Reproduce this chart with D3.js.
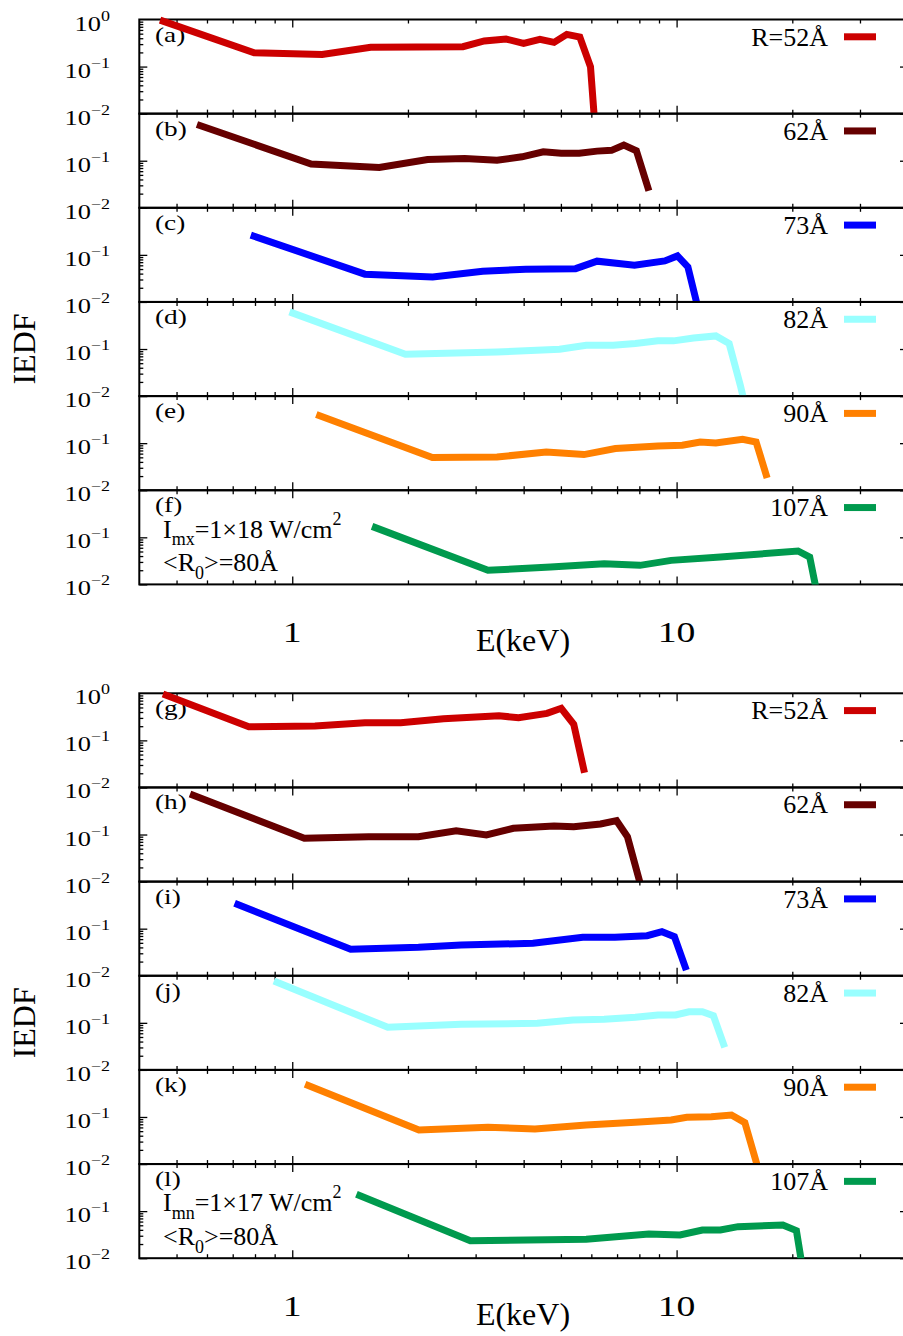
<!DOCTYPE html>
<html><head><meta charset="utf-8">
<script src="https://cdn.jsdelivr.net/npm/d3@7"></script>
<style>
body{margin:0;background:#fff}
svg{display:block;background:#fff}
</style>
</head><body>
<svg id="c" width="903" height="1336" font-family="Liberation Serif, Times New Roman, serif"></svg>
<script>
// ---------- data ----------
const letters = ["a","b","c","d","e","f","g","h","i","j","k","l"];
const radiusLabels = ["R=52Å","62Å","73Å","82Å","90Å","107Å"];
const lineColors = ["#cc0000","#660000","#0000ff","#99ffff","#ff8000","#009a4e"];
const xMajor = [1, 10];
const xMinor = [0.5,0.6,0.7,0.8,0.9,2,3,4,5,6,7,8,9,20,30];
const xTickLabels = ["1","10"];
const yMajor = [1, 0.1, 0.01];
const yExponents = ["0","−1","−2"];
const yMinorUpper = [0.2,0.3,0.4,0.5,0.6,0.7,0.8,0.9];
const yMinorLower = [0.02,0.03,0.04,0.05,0.06,0.07,0.08,0.09];
const intensitySub = ["mx","mn"];
const intensityText = ["=1×18 W/cm","=1×17 W/cm"];

// top group (I_mx)
const E_a = [0.453,0.796,1.196,1.6,2.78,3.16,3.6,4.0,4.41,4.8,5.18,5.6,5.97,6.1];
const V_a = [0.97,0.197,0.18,0.256,0.264,0.35,0.385,0.311,0.379,0.327,0.483,0.425,0.099,0.0095];
const E_b = [0.565,1.12,1.684,2.25,2.81,3.41,3.96,4.5,5.01,5.58,6.21,6.77,7.29,7.86,8.47];
const V_b = [0.59,0.085,0.072,0.106,0.112,0.103,0.121,0.155,0.145,0.145,0.16,0.166,0.215,0.163,0.023];
const E_c = [0.78,1.545,2.32,3.13,4.05,5.46,6.21,7.77,9.32,10.05,10.7,11.3];
const V_c = [0.263,0.0389,0.034,0.045,0.0497,0.051,0.0735,0.0603,0.0745,0.095,0.0555,0.009];
const E_d = [0.984,1.97,3.41,4.96,5.82,6.84,7.81,8.94,9.82,11.07,12.65,13.7,14.65,14.9];
const V_d = [0.616,0.0775,0.0867,0.099,0.1205,0.1205,0.131,0.149,0.149,0.172,0.19,0.131,0.017,0.0095];
const E_e = [1.155,2.315,3.41,4.58,5.74,6.93,8.94,10.35,11.52,12.65,14.85,16.1,17.2];
const V_e = [0.406,0.0494,0.0509,0.065,0.0572,0.0767,0.0871,0.0902,0.106,0.101,0.121,0.106,0.0182];
const E_f = [1.613,3.23,4.7,6.48,8.03,9.68,13.0,20.7,22.2,23.0];
const V_f = [0.171,0.0199,0.0233,0.0275,0.0254,0.0324,0.0381,0.0512,0.0381,0.009];
// bottom group (I_mn)
const E_g = [0.461,0.771,1.146,1.545,1.915,2.475,3.45,3.88,4.6,5.01,5.40,5.76];
const V_g = [0.97,0.195,0.201,0.237,0.237,0.288,0.333,0.303,0.375,0.48,0.219,0.0205];
const E_h = [0.542,1.075,1.58,2.13,2.67,3.2,3.76,4.8,5.40,6.34,6.98,7.45,8.03];
const V_h = [0.727,0.083,0.0898,0.0898,0.1205,0.0977,0.1355,0.152,0.1466,0.167,0.197,0.0898,0.0095];
const E_i = [0.708,1.419,2.13,2.75,4.23,5.70,6.91,8.38,9.16,9.87,10.6];
const V_i = [0.347,0.0365,0.0402,0.045,0.0489,0.0656,0.0656,0.071,0.0863,0.0676,0.0132];
const E_j = [0.896,1.772,2.75,4.34,5.37,6.48,7.81,8.94,9.94,10.77,11.67,12.47,13.34];
const V_j = [0.775,0.0802,0.0929,0.0975,0.115,0.1186,0.131,0.1466,0.1466,0.172,0.172,0.1416,0.0301];
const E_k = [1.08,2.136,3.23,4.28,5.82,7.81,9.68,10.63,12.31,13.89,15.05,16.2];
const V_k = [0.496,0.0529,0.0603,0.0555,0.0676,0.077,0.0863,0.0986,0.1016,0.110,0.0758,0.0095];
const E_l = [1.469,2.906,5.82,8.47,10.21,11.67,13.0,14.45,18.9,20.5,21.1];
const V_l = [0.229,0.0236,0.0252,0.0327,0.0312,0.0398,0.0398,0.0468,0.0508,0.0385,0.009];

const seriesE = [E_a,E_b,E_c,E_d,E_e,E_f,E_g,E_h,E_i,E_j,E_k,E_l];
const seriesV = [V_a,V_b,V_c,V_d,V_e,V_f,V_g,V_h,V_i,V_j,V_k,V_l];

// ---------- layout ----------
const groupTops = [19.5, 693.3];
const H = 94.15;
const L = 139.3, R = 908;
const svg = d3.select("#c");
const defs = svg.append("defs");
const x = d3.scaleLog().domain([0.4, 40]).range([L, R]);

function axisStyle(g){
  g.select(".domain").remove();
  g.selectAll("line").attr("stroke","#000").attr("stroke-width",1.3);
  g.selectAll("text").remove();
}

for (let p = 0; p < 12; p++) {
  const grp = Math.floor(p / 6), k = p % 6;
  const T = groupTops[grp] + k * H;
  const y = d3.scaleLog().domain([0.01, 1]).range([T + H, T]);
  const g = svg.append("g");

  // ticks
  g.append("g").attr("transform",`translate(0,${T+H})`)
    .call(d3.axisBottom(x).tickValues(xMajor).tickSize(-8)).call(axisStyle);
  g.append("g").attr("transform",`translate(0,${T+H})`)
    .call(d3.axisBottom(x).tickValues(xMinor).tickSize(-4)).call(axisStyle);
  g.append("g").attr("transform",`translate(0,${T})`)
    .call(d3.axisTop(x).tickValues(xMajor).tickSize(-8)).call(axisStyle);
  g.append("g").attr("transform",`translate(0,${T})`)
    .call(d3.axisTop(x).tickValues(xMinor).tickSize(-4)).call(axisStyle);
  const yMinor = k === 0 ? yMinorUpper.concat(yMinorLower) : yMinorLower;
  g.append("g").attr("transform",`translate(${L},0)`)
    .call(d3.axisLeft(y).tickValues(yMajor.slice(1)).tickSize(-8)).call(axisStyle);
  g.append("g").attr("transform",`translate(${L},0)`)
    .call(d3.axisLeft(y).tickValues(yMinor).tickSize(-4)).call(axisStyle);
  g.append("g").attr("transform",`translate(${R},0)`)
    .call(d3.axisRight(y).tickValues(yMajor.slice(1)).tickSize(-8)).call(axisStyle);
  g.append("g").attr("transform",`translate(${R},0)`)
    .call(d3.axisRight(y).tickValues(yMinor).tickSize(-4)).call(axisStyle);

  // border
  g.append("rect").attr("x",L).attr("y",T).attr("width",R-L).attr("height",H)
    .attr("fill","none").attr("stroke","#000").attr("stroke-width",2);

  // y tick labels
  const labIdx = k === 0 ? [0,1,2] : [1,2];
  labIdx.forEach(i => {
    const t = g.append("text")
      .attr("transform",`translate(110,${y(yMajor[i])+11}) scale(1.2,1)`)
      .attr("text-anchor","end").attr("font-size",22);
    t.append("tspan").text("10");
    t.append("tspan").attr("font-size",15).attr("dy",-10).text(yExponents[i]);
  });

  // panel letter
  g.append("text").attr("transform",`translate(155,${T+22}) scale(1.3,1)`)
    .attr("font-size",21).text(`(${letters[p]})`);

  // legend
  g.append("text").attr("x",828).attr("y",T+26).attr("text-anchor","end")
    .attr("font-size",26).text(radiusLabels[k]);
  g.append("line").attr("x1",844).attr("x2",876).attr("y1",T+17.3).attr("y2",T+17.3)
    .attr("stroke",lineColors[k]).attr("stroke-width",7);

  // annotation in the last panel of each group
  if (k === 5) {
    const t1 = g.append("text").attr("x",163).attr("y",T+47.3).attr("font-size",26);
    t1.append("tspan").text("I");
    t1.append("tspan").attr("font-size",18).attr("dy",7.5).text(intensitySub[grp]);
    t1.append("tspan").attr("dy",-7.5).text(intensityText[grp]);
    t1.append("tspan").attr("font-size",18).attr("dy",-13).text("2");
    const t2 = g.append("text").attr("x",163).attr("y",T+80.7).attr("font-size",26);
    t2.append("tspan").text("<R");
    t2.append("tspan").attr("font-size",18).attr("dy",8).text("0");
    t2.append("tspan").attr("dy",-8).text(">=80Å");
  }

  // data line
  const cid = "clip" + p;
  defs.append("clipPath").attr("id",cid).append("rect")
    .attr("x",L-6).attr("y",T-6).attr("width",R-L+6).attr("height",H+6);
  const pts = seriesE[p].map((e,i) => [e, seriesV[p][i]]);
  g.append("path").datum(pts).attr("clip-path",`url(#${cid})`)
    .attr("fill","none").attr("stroke",lineColors[k]).attr("stroke-width",7)
    .attr("stroke-linejoin","miter").attr("stroke-linecap","butt")
    .attr("d", d3.line().x(d => x(d[0])).y(d => y(d[1])));
}

// group-level labels
groupTops.forEach(top => {
  const bottom = top + 6 * H;
  xMajor.forEach((v,i) => {
    svg.append("text").attr("transform",`translate(${x(v)},${bottom+57.5}) scale(1.3,1)`)
      .attr("text-anchor","middle").attr("font-size",29).text(xTickLabels[i]);
  });
  svg.append("text").attr("x",523).attr("y",bottom+67).attr("text-anchor","middle")
    .attr("font-size",32).text("E(keV)");
  svg.append("text").attr("transform",`translate(35,${top+329.5}) rotate(-90)`)
    .attr("text-anchor","middle").attr("font-size",32).text("IEDF");
});
</script>
</body></html>
